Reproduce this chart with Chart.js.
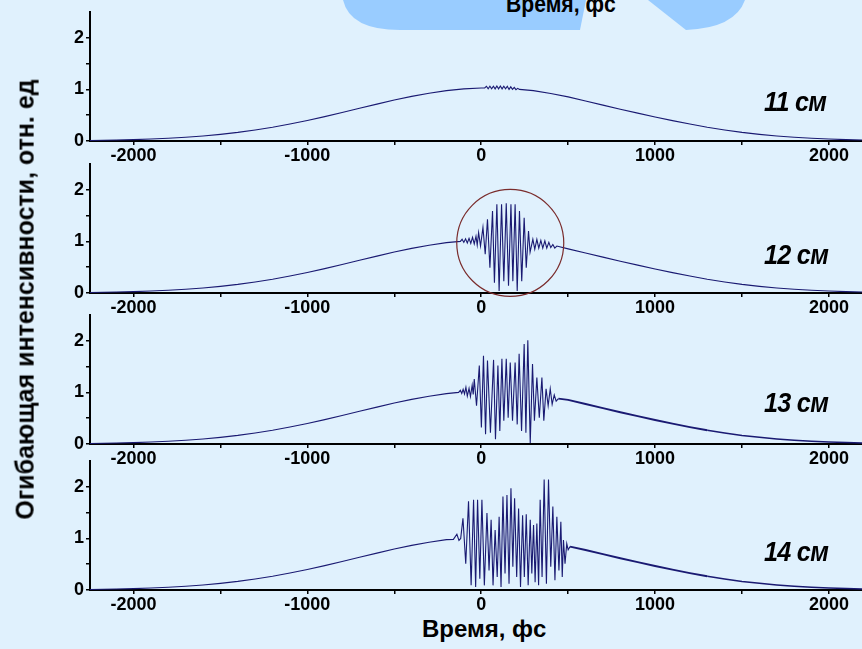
<!DOCTYPE html>
<html>
<head>
<meta charset="utf-8">
<script src="https://cdn.jsdelivr.net/npm/chart.js@4.4.0/dist/chart.umd.min.js"></script>
<style>
  body { margin: 0; background: #e0f1fd; width: 862px; height: 649px; overflow: hidden; position: relative;
         font-family: "Liberation Sans", Arial, sans-serif; color: #000; }
  canvas { position: absolute; left: 0; }
  .txt { position: absolute; white-space: nowrap; }
  .dist { font-size: 28px; line-height: 28px; font-weight: bold; font-style: italic; transform-origin: left top;
          transform: scaleX(0.9); letter-spacing: -0.8px; }
</style>
</head>
<body>
<svg width="862" height="40" style="position:absolute;left:0;top:0">
  <path d="M343,0 Q350,30 400,30 L580,30 L586,0 Z" fill="#99ccff"/>
  <path d="M648,0 L686,30 Q735,28 745,0 Z" fill="#99ccff"/>
</svg>
<div class="txt" style="left:506px;top:-7px;font-size:23px;line-height:23px;font-weight:bold;transform:scaleX(0.92);transform-origin:left top;">Время, фс</div>

<canvas id="p1" width="862" height="164"></canvas>
<canvas id="p2" width="862" height="164"></canvas>
<canvas id="p3" width="862" height="164"></canvas>
<canvas id="p4" width="862" height="164"></canvas>

<div class="txt dist" style="left:764px;top:88px;">11 см</div>
<div class="txt dist" style="left:764px;top:241px;">12 см</div>
<div class="txt dist" style="left:764px;top:389px;">13 см</div>
<div class="txt dist" style="left:764px;top:538px;">14 см</div>

<div class="txt" id="ylab" style="font-size:25px;line-height:25px;font-weight:bold;">Огибающая интенсивности, отн. ед</div>
<div class="txt" id="xlab" style="font-size:24px;line-height:24px;font-weight:bold;top:617px;">Время, фс</div>

<script>
// smooth envelope (fs, rel. units)
let envTime = [-2250,-2100,-2000,-1900,-1800,-1700,-1600,-1500,-1400,-1300,-1200,-1100,-1000,-900,-800,-700,-600,-500,-400,-300,-200,-100,0,100,200,300,400,500,600,700,800,900,1000,1100,1200,1300,1400,1500,1600,1700,1800,1900,2000,2100,2200];
let envValue = [0.011,0.019,0.027,0.038,0.053,0.073,0.098,0.129,0.167,0.213,0.266,0.328,0.397,0.472,0.551,0.633,0.715,0.793,0.865,0.926,0.976,1.010,1.028,1.028,1.010,0.976,0.922,0.855,0.775,0.695,0.615,0.540,0.465,0.395,0.328,0.266,0.213,0.167,0.129,0.098,0.073,0.053,0.038,0.027,0.018];

// 11 cm
let p1Time = [20,30,40,50,60,70,80,90,100,110,120,130,140,150,160,170,180,190,200,210,220];
let p1Value = [1.03,1.06,1.01,1.06,1.01,1.06,1.01,1.065,1.01,1.065,1.01,1.06,1.01,1.06,1.0,1.05,1.0,1.04,0.995,1.02,1.0];

// 12 cm
let p2Time = [-120,-110,-100,-90,-80,-70,-60,-50,-40,-30,-23,-15,-4,10,23,36,50,65,76,90,103,117,130,144,157,171,182,195,207,220,233,247,259,272,281,297,308,320,331,343,354,366,377,389,400,412,423,435];
let p2Value = [1.0,1.04,0.98,1.05,0.97,1.06,0.96,1.08,0.95,1.1,0.93,1.17,0.91,1.27,0.75,1.43,0.49,1.59,0.2,1.72,0.04,1.72,0.23,1.74,0.14,1.72,0.23,1.72,0.04,1.59,0.23,1.46,0.49,1.2,0.79,1.04,0.85,1.04,0.87,1.02,0.87,1.01,0.87,0.98,0.88,0.94,0.87,0.91];

// 13 cm
let p3Time = [-130,-120,-112,-104,-96,-88,-80,-70,-62,-52,-46,-40,-27,-11,1,13,25,36,53,71,82,96,107,119,130,144,155,167,180,195,207,218,232,247,257,268,282,295,306,320,334,349,360,373,385,397,408,420,431,444];
let p3Value = [1.0,1.04,0.98,1.06,0.97,1.1,0.93,1.08,0.92,1.14,0.96,1.26,0.74,1.52,0.32,1.71,0.19,1.62,0.22,1.63,0.09,1.52,0.25,1.65,0.45,1.65,0.51,1.58,0.45,1.58,0.38,1.75,0.25,1.94,0.22,2.01,0.02,1.55,0.45,1.29,0.51,1.29,0.45,1.07,0.74,1.07,0.77,0.95,0.83,0.88];

// 14 cm
let p4Time = [-160,-140,-128,-118,-105,-89,-73,-58,-44,-32,-21,-8,4,18,33,45,57,68,80,92,103,114,125,137,148,160,171,182,192,204,215,226,238,248,259,270,282,291,301,310,320,330,339,350,362,375,387,400,412,424,435,447,458,466,473,482,492,500,511];
let p4Value = [0.98,1.08,0.96,1.0,1.39,0.51,1.72,0.09,1.75,0.06,1.75,0.22,1.75,0.09,1.49,0.38,1.36,0.09,1.16,0.25,1.42,0.06,1.81,0.32,1.84,0.12,1.97,0.45,1.78,0.25,1.58,0.06,1.45,0.25,1.47,0.09,1.36,0.32,1.26,0.15,1.29,0.09,1.75,0.25,2.14,0.12,2.14,0.45,1.62,0.19,1.42,0.38,1.32,0.25,0.97,0.51,0.9,0.78,0.84];

let xTicks = [-2000,-1500,-1000,-500,0,500,1000,1500,2000];
let xLabeled = [-2000,-1000,0,1000,2000];
let yTicks = [0,0.5,1,1.5,2];
let yLabeled = [0,1,2];

// marked region on the 12 cm trace
let circleTime = 167;
let circleValue = 0.97;

const tickFont = { family: 'Liberation Sans', size: 18, weight: 'bold' };
const lineColor = '#1a1a72';

function mergeSeries(rt, rv) {
  let lo = rt[0], hi = rt[rt.length - 1];
  let pts = [];
  envTime.forEach((t, i) => { if (t < lo || t > hi) pts.push({ x: t, y: envValue[i] }); });
  rt.forEach((t, i) => pts.push({ x: t, y: rv[i] }));
  return pts.sort((a, b) => a.x - b.x);
}

let circlePlugin = {
  id: 'circle',
  afterDatasetsDraw(chart) {
    let c = chart.ctx;
    let cx = chart.scales.x.getPixelForValue(circleTime);
    let cy = chart.scales.y.getPixelForValue(circleValue);
    c.save();
    c.strokeStyle = '#7a2c2c';
    c.lineWidth = 1.2;
    c.beginPath();
    c.arc(cx, cy, 53.5, 0, Math.PI * 2);
    c.stroke();
    c.restore();
  }
};

// top of plot area, zero line, thick-tail start
let panels = [
  { id: 'p1', top: 12, zero: 141, t: p1Time, v: p1Value, thick: null },
  { id: 'p2', top: 164, zero: 293, t: p2Time, v: p2Value, thick: null, circle: true },
  { id: 'p3', top: 315, zero: 444, t: p3Time, v: p3Value, thick: 444 },
  { id: 'p4', top: 461, zero: 590, t: p4Time, v: p4Value, thick: 511 }
];

const padTop = 20;
const xAxisH = 25;
let charts = [];

panels.forEach(p => {
  let cv = document.getElementById(p.id);
  cv.style.top = (p.top - padTop) + 'px';
  cv.height = padTop + (p.zero - p.top) + xAxisH;
  charts.push(new Chart(cv, {
    type: 'line',
    data: {
      datasets: [{
        data: mergeSeries(p.t, p.v),
        borderColor: lineColor,
        borderWidth: 1.1,
        pointRadius: 0,
        tension: 0,
        segment: {
          borderWidth: ctx => (p.thick !== null && ctx.p0.parsed.x >= p.thick) ? (ctx.p0.parsed.x < 1300 ? 1.9 : 1.5) : 1.1
        }
      }]
    },
    options: {
      responsive: false,
      animation: false,
      layout: { padding: { top: padTop, left: 0, right: 0, bottom: 0 } },
      plugins: { legend: { display: false }, tooltip: { enabled: false } },
      scales: {
        x: {
          type: 'linear',
          min: -2250,
          max: 2190,
          afterBuildTicks: s => { s.ticks = xTicks.map(v => ({ value: v })); },
          afterFit: s => { s.height = xAxisH; },
          grid: { drawOnChartArea: false, tickLength: 4, color: '#000', lineWidth: 1.5 },
          border: { color: '#000', width: 2 },
          ticks: {
            font: tickFont, color: '#000', padding: 0, maxRotation: 0, autoSkip: false,
            callback: v => xLabeled.includes(v) ? String(v) : ''
          }
        },
        y: {
          min: 0,
          max: 2.5,
          afterBuildTicks: s => { s.ticks = yTicks.map(v => ({ value: v })); },
          afterFit: s => { s.width = 90; },
          grid: { drawOnChartArea: false, tickLength: 4, color: '#000', lineWidth: 1.5 },
          border: { color: '#000', width: 2 },
          ticks: {
            font: tickFont, color: '#000', padding: 2,
            callback: v => yLabeled.includes(v) ? String(v) : ''
          }
        }
      }
    },
    plugins: p.circle ? [circlePlugin] : []
  }));
});

// place rotated y label and bottom x label
let yl = document.getElementById('ylab');
yl.style.left = (24.5 - yl.offsetWidth / 2) + 'px';
yl.style.top = (299 - yl.offsetHeight / 2) + 'px';
yl.style.transform = 'rotate(-90deg)';
let xl = document.getElementById('xlab');
xl.style.left = (484 - xl.offsetWidth / 2) + 'px';
</script>
</body>
</html>
